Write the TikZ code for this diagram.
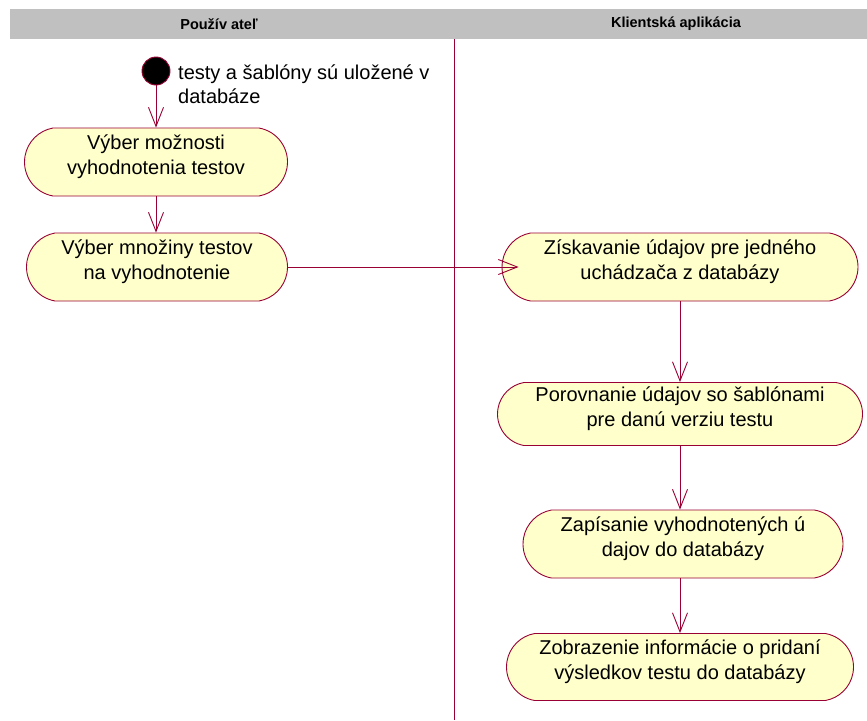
\documentclass[tikz,border=0pt]{standalone}
\usepackage{fontspec}
\setmainfont{Liberation Sans}
\usetikzlibrary{shapes.misc,arrows.meta}
\definecolor{flowline}{RGB}{153,0,51}
\definecolor{actfill}{RGB}{255,255,204}
\definecolor{lanehead}{RGB}{192,192,192}
\tikzset{
  activity/.style={rounded rectangle, rounded rectangle arc length=160,
    draw=flowline, fill=actfill, line width=0.9pt, inner sep=0pt,
    align=center, font=\fontsize{20}{24.5}\selectfont,
    execute at end node={\rule[-15pt]{0pt}{15pt}}},
  flow/.style={draw=flowline, line width=0.9pt,
    -{Straight Barb[length=19pt,width=15pt,line width=0.9pt]}},
  headtext/.style={font=\bfseries\fontsize{14.5}{17}\selectfont},
  plaintext/.style={font=\fontsize{20}{24.5}\selectfont, inner sep=0pt, anchor=base west}
}
\begin{document}
\begin{tikzpicture}[x=1pt,y=-1pt]
\useasboundingbox (0,0) rectangle (867,720);
\fill[white] (0,0) rectangle (867,720);

% swimlane header and divider
\fill[lanehead] (10,9) rectangle (867,39);
\node[headtext] (laneA) at (219,24) {Použív ateľ};
\node[headtext] (laneB) at (676,24) {Klientská aplikácia};
\draw[flowline, line width=0.8pt] (454,39) -- (454,720);

% initial state
\node[circle, fill=black, draw=flowline, line width=0.9pt, minimum size=28pt, inner sep=0pt] (start) at (156,71) {};
\node[plaintext] (noteA) at (178,79) {testy a šablóny sú uložené v};
\node[plaintext] (noteB) at (178,103) {databáze};

% activities
\node[activity, minimum width=263pt, minimum height=68pt] (a1) at (156,162) {Výber možnosti\\vyhodnotenia testov};
\node[activity, minimum width=261pt, minimum height=68pt] (a2) at (157,267) {Výber množiny testov\\na vyhodnotenie};
\node[activity, minimum width=356pt, minimum height=68pt] (a3) at (680,267) {Získavanie údajov pre jedného\\uchádzača z databázy};
\node[activity, minimum width=365pt, minimum height=63pt] (a4) at (680,414) {Porovnanie údajov so šablónami\\pre danú verziu testu};
\node[activity, minimum width=320pt, minimum height=68pt] (a5) at (683,544) {Zapísanie vyhodnotených ú\\dajov do databázy};
\node[activity, minimum width=347pt, minimum height=67pt] (a6) at (680,667) {Zobrazenie informácie o pridaní\\výsledkov testu do databázy};

% transitions
\draw[flow] (start.south) -- (start.south |- a1.north);
\draw[flow] (a1.south -| 156,0) -- (a2.north -| 156,0);
\draw[flow] (a2.east) -- ([xshift=17pt]a3.west);
\draw[flow] (a3.south) -- (a4.north);
\draw[flow] (a4.south) -- (a4.south |- a5.north);
\draw[flow] (a5.south -| a6.north) -- (a6.north);
\end{tikzpicture}
\end{document}
